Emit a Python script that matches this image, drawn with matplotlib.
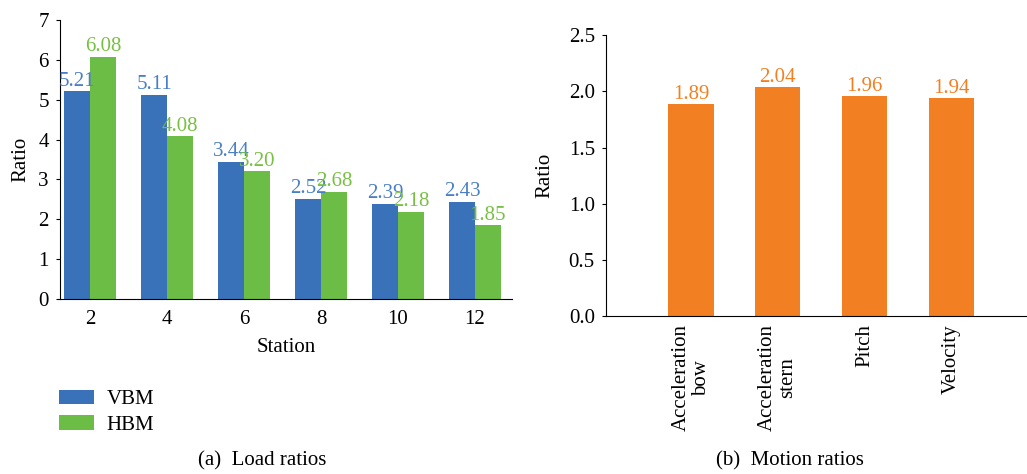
import matplotlib
matplotlib.use("Agg")
import matplotlib.pyplot as plt
import numpy as np

plt.rcParams['font.family'] = ['Liberation Serif', 'DejaVu Serif']
plt.rcParams['font.size'] = 15

stations = ['2', '4', '6', '8', '10', '12']
vbm = [5.21, 5.11, 3.44, 2.52, 2.39, 2.43]
hbm = [6.08, 4.08, 3.20, 2.68, 2.18, 1.85]

motions = ['Acceleration\nbow', 'Acceleration\nstern', 'Pitch', 'Velocity']
motion_ratios = [1.89, 2.04, 1.96, 1.94]

blue = '#3a72ba'
green = '#6cbd45'
orange = '#f28022'
blue_txt = '#4a7ec6'
green_txt = '#78c043'

fig = plt.figure(figsize=(10.27, 4.74), dpi=100)

# (a) load ratios
ax1 = fig.add_axes([0.0584, 0.369, 0.4401, 0.589])
x = np.arange(len(stations))
w = 0.335
b1 = ax1.bar(x - w / 2, vbm, w, color=blue, label='VBM')
b2 = ax1.bar(x + w / 2, hbm, w, color=green, label='HBM')
for rect, v in zip(b1, vbm):
    ax1.text(rect.get_x() + rect.get_width() / 2, v + 0.02, f'{v:.2f}',
             ha='center', va='bottom', color=blue_txt)
for rect, v in zip(b2, hbm):
    ax1.text(rect.get_x() + rect.get_width() / 2, v + 0.02, f'{v:.2f}',
             ha='center', va='bottom', color=green_txt)
ax1.set_xlim(-0.39, 5.48)
ax1.set_ylim(0, 7)
ax1.set_yticks(range(8))
ax1.set_xticks(x)
ax1.set_xticklabels(stations)
ax1.tick_params(axis='x', length=0, pad=8)
ax1.tick_params(axis='y', length=3, direction='out', pad=5)
ax1.spines[['top', 'right']].set_visible(False)
ax1.set_xlabel('Station', labelpad=6)
ax1.set_ylabel('Ratio', labelpad=6)

fig.legend(handles=[b1, b2], labels=['VBM', 'HBM'], loc='upper left',
           bbox_to_anchor=(0.057, 0.178), frameon=False,
           handlelength=1.7, handleheight=0.68, handletextpad=0.6,
           labelspacing=0.3, borderaxespad=0, borderpad=0)

fig.text(0.255, 0.027, '(a)  Load ratios', ha='center', va='center')

# (b) motion ratios
ax2 = fig.add_axes([0.590, 0.333, 0.410, 0.593])
x2 = np.arange(len(motions))
bars = ax2.bar(x2, motion_ratios, 0.52, color=orange)
for rect, v in zip(bars, motion_ratios):
    ax2.text(rect.get_x() + rect.get_width() / 2, v, f'{v:.2f}',
             ha='center', va='bottom', color=orange)
ax2.set_xlim(-0.98, 3.87)
ax2.set_ylim(0, 2.5)
ax2.set_yticks([0, 0.5, 1.0, 1.5, 2.0, 2.5])
ax2.set_yticklabels(['0.0', '0.5', '1.0', '1.5', '2.0', '2.5'])
ax2.set_xticks(x2)
ax2.set_xticklabels(motions, rotation=90, ha='center', va='top',
                    linespacing=1.1)
ax2.tick_params(axis='x', length=0, pad=6)
ax2.tick_params(axis='y', length=3, direction='out', pad=5)
ax2.spines[['top', 'right']].set_visible(False)
ax2.set_ylabel('Ratio', labelpad=10)

fig.text(0.769, 0.027, '(b)  Motion ratios', ha='center', va='center')

fig.savefig('out.png', dpi=100)
